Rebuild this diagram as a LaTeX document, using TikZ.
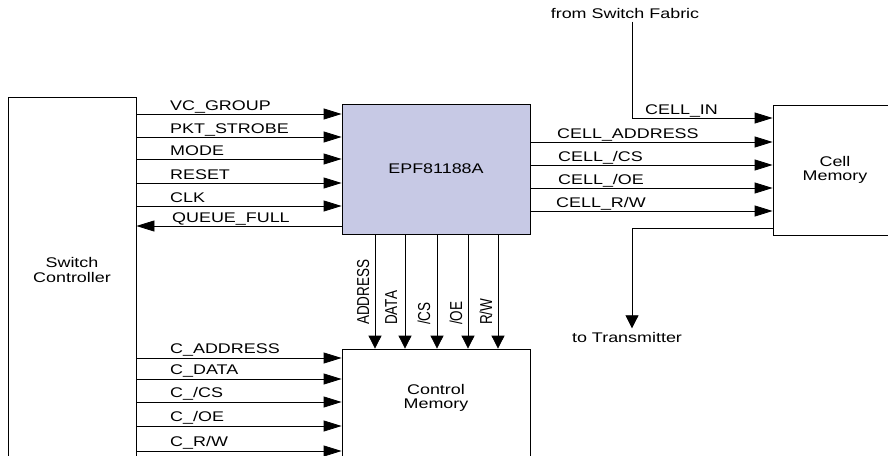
\documentclass[tikz,border=0pt]{standalone}
\usepackage{fontspec}
\setmainfont{Liberation Sans}[FakeStretch=1.28]
\newfontfamily\plainsans{Liberation Sans}
\usetikzlibrary{arrows.meta, positioning}
\definecolor{chipblue}{RGB}{199,201,229}
\tikzstyle{block}  = [draw, line width=0.8pt, rectangle, inner sep=0pt, align=center]
\tikzstyle{harrow} = [line width=0.8pt, -{Triangle[length=18pt, width=11pt]}]
\tikzstyle{varrow} = [line width=0.8pt, -{Triangle[length=13pt, width=13pt]}]
\tikzstyle{lbl}    = [anchor=base west, inner sep=0pt]
\tikzstyle{vlbl}   = [anchor=base west, inner sep=0pt, rotate=90, yscale=1.28, font=\plainsans\fontsize{13.5}{14}\selectfont]

\begin{document}
\begin{tikzpicture}[x=1pt, y=-1pt, font=\fontsize{14}{14.5}\selectfont]
\useasboundingbox (0,0) rectangle (888,455);
\clip (0,0) rectangle (888,455);

% blocks
\node[block, minimum width=128pt, minimum height=380pt] (ctrl) at (72,287) {};
\node[align=center] (ctrltxt) at (72,270) {Switch\\Controller};

\node[block, fill=chipblue, minimum width=188pt, minimum height=130pt] (epf) at (436,169) {EPF81188A};

\node[block, minimum width=124pt, minimum height=130pt] (cell) at (835,170) {Cell\\Memory};

\node[block, minimum width=188pt, minimum height=130pt] (cmem) at (436,414) {};
\node[align=center] (cmemtxt) at (436,398) {Control\\Memory};

% switch controller <-> EPF81188A
\draw[harrow] (ctrl.east |- 0,114) -- (epf.west |- 0,114);
\draw[harrow] (ctrl.east |- 0,137) -- (epf.west |- 0,137);
\draw[harrow] (ctrl.east |- 0,159) -- (epf.west |- 0,159);
\draw[harrow] (ctrl.east |- 0,183) -- (epf.west |- 0,183);
\draw[harrow] (ctrl.east |- 0,206) -- (epf.west |- 0,206);
\draw[harrow] (epf.west |- 0,226) -- (ctrl.east |- 0,226);

\node[lbl] (lvc)    at (170,110) {VC\_GROUP};
\node[lbl] (lpkt)   at (170,133) {PKT\_STROBE};
\node[lbl] (lmode)  at (170,155) {MODE};
\node[lbl] (lreset) at (170,179) {RESET};
\node[lbl] (lclk)   at (170,202) {CLK};
\node[lbl] (lqueue) at (172,222) {QUEUE\_FULL};

% EPF81188A -> cell memory
\draw[harrow] (epf.east |- 0,142) -- (cell.west |- 0,142);
\draw[harrow] (epf.east |- 0,165) -- (cell.west |- 0,165);
\draw[harrow] (epf.east |- 0,188) -- (cell.west |- 0,188);
\draw[harrow] (epf.east |- 0,211) -- (cell.west |- 0,211);

\node[lbl] (lcaddr) at (557,138) {CELL\_ADDRESS};
\node[lbl] (lccs)   at (558,161) {CELL\_/CS};
\node[lbl] (lcoe)   at (558,184) {CELL\_/OE};
\node[lbl] (lcrw)   at (556,207) {CELL\_R/W};

% switch fabric and transmitter
\node[anchor=base] (fabtxt) at (625,18) {from Switch Fabric};
\draw[harrow] (fabtxt.south -| 632,0) |- (cell.west |- 0,118);
\node[lbl] (lcin) at (645,114) {CELL\_IN};

\node[anchor=base] (trans) at (627,342) {to Transmitter};
\draw[varrow] (cell.west |- 0,228) -| (trans.north -| 632,0);

% EPF81188A -> control memory
\draw[varrow] (epf.south -| 375,0) -- (cmem.north -| 375,0);
\draw[varrow] (epf.south -| 405,0) -- (cmem.north -| 405,0);
\draw[varrow] (epf.south -| 437,0) -- (cmem.north -| 437,0);
\draw[varrow] (epf.south -| 468,0) -- (cmem.north -| 468,0);
\draw[varrow] (epf.south -| 498,0) -- (cmem.north -| 498,0);

\node[vlbl] (laddr) at (369,325) {ADDRESS};
\node[vlbl] (ldata) at (397,325) {DATA};
\node[vlbl] (lcs)   at (430,325) {/CS};
\node[vlbl] (loe)   at (462,325) {/OE};
\node[vlbl] (lrw)   at (492,325) {R/W};

% switch controller -> control memory
\draw[harrow] (ctrl.east |- 0,358) -- (cmem.west |- 0,358);
\draw[harrow] (ctrl.east |- 0,379) -- (cmem.west |- 0,379);
\draw[harrow] (ctrl.east |- 0,402) -- (cmem.west |- 0,402);
\draw[harrow] (ctrl.east |- 0,426) -- (cmem.west |- 0,426);
\draw[harrow] (ctrl.east |- 0,451) -- (cmem.west |- 0,451);

\node[lbl] (lcaddr2) at (170,353) {C\_ADDRESS};
\node[lbl] (lcdata)  at (170,374) {C\_DATA};
\node[lbl] (lccs2)   at (170,397) {C\_/CS};
\node[lbl] (lcoe2)   at (170,421) {C\_/OE};
\node[lbl] (lcrw2)   at (170,446) {C\_R/W};

\end{tikzpicture}
\end{document}
